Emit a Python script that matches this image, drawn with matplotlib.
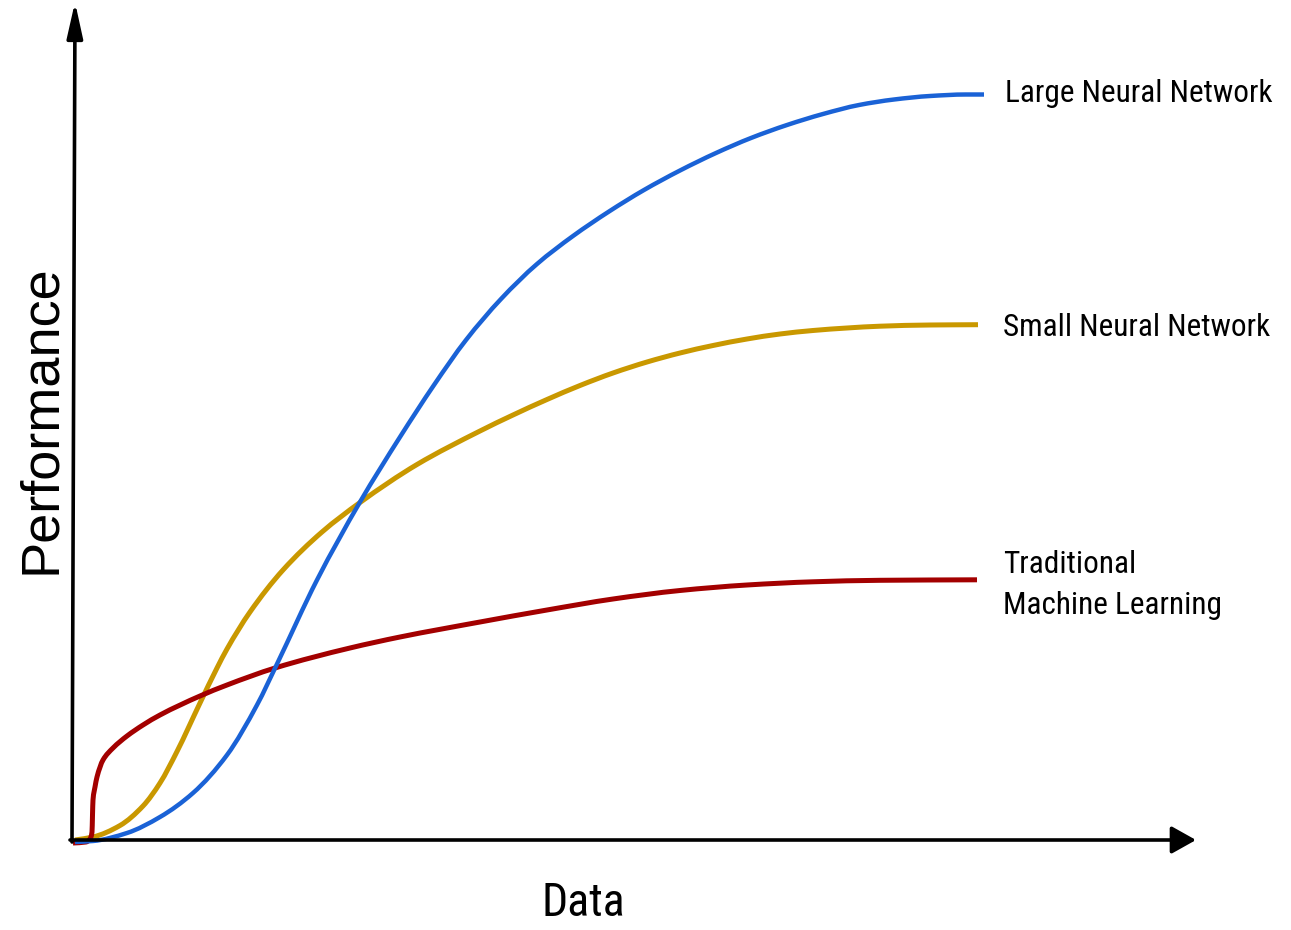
import matplotlib
matplotlib.use("Agg")
import numpy as np
import matplotlib.pyplot as plt
from matplotlib import font_manager as fm
from matplotlib.path import Path
from matplotlib.patches import PathPatch

# ---- data (arbitrary units: amount of data vs. performance) ----
large_x = [3, 21, 55, 88, 121, 155, 185, 205, 245, 288, 328, 362, 394, 429,
           465, 501, 537, 572, 608, 644, 679, 715, 751, 787, 822, 858, 894, 912]
large_y = [-2, -1, 7, 23, 47, 85, 135, 176, 260, 338, 403, 455, 500, 541,
           576, 604, 628.5, 650, 669.5, 687, 702, 715, 726, 735, 740.5, 744,
           745.5, 745.5]

small_x = [3, 21, 48, 71, 88, 105, 128, 145, 155, 178, 211, 250, 288, 345, 408,
           441, 475, 508, 541, 575, 608, 641, 675, 708, 741, 775, 808, 858, 906]
small_y = [0, 3, 14.5, 34, 57, 88.5, 137, 172, 191, 228, 270, 308, 337.5,
           375.5, 409, 425, 440.5, 454.5, 467, 478, 487, 494.5, 501, 506,
           509.5, 512, 513.8, 515, 515.3]

trad_x = [1, 14, 18, 20, 20.5, 21, 23, 25, 31, 41, 55, 71, 88, 128, 155, 203,
          278, 328, 408, 475, 541, 608, 675, 741, 808, 905]
trad_y = [-3, -2, 1, 8, 25, 40, 53, 63, 80, 92, 104, 115, 125, 144, 155, 172,
          192, 203, 218, 230, 241, 249.5, 255, 258.2, 259.7, 260.2]

series_names = ["Large Neural Network", "Small Neural Network",
                "Traditional\nMachine Learning"]
x_label = "Data"
y_label = "Performance"

# ---- styling ----
blue = "#1a62d6"
gold = "#c99800"
red = "#a30000"

names = {f.name for f in fm.fontManager.ttflist}
narrow = None
for cand in ["Liberation Sans Narrow", "Arial Narrow", "Roboto Condensed",
             "Open Sans Condensed", "DejaVu Sans Condensed"]:
    if cand in names:
        narrow = cand
        break
if narrow is not None:
    lab_size = 22.5
    data_size = 33
else:
    narrow = "Liberation Sans"
    lab_size = 20.5
    data_size = 30


def smooth_path(xs, ys):
    """Monotone cubic (Fritsch-Carlson) Bezier path through the given points."""
    x = np.asarray(xs, float)
    y = np.asarray(ys, float)
    h = np.diff(x)
    d = np.diff(y) / h
    m = np.zeros_like(x)
    m[0] = d[0]
    m[-1] = d[-1]
    for k in range(1, len(x) - 1):
        if d[k - 1] * d[k] <= 0:
            m[k] = 0.0
        else:
            w1 = 2 * h[k] + h[k - 1]
            w2 = h[k] + 2 * h[k - 1]
            m[k] = (w1 + w2) / (w1 / d[k - 1] + w2 / d[k])
    verts = [(x[0], y[0])]
    codes = [Path.MOVETO]
    for k in range(len(x) - 1):
        verts += [(x[k] + h[k] / 3, y[k] + m[k] * h[k] / 3),
                  (x[k + 1] - h[k] / 3, y[k + 1] - m[k + 1] * h[k] / 3),
                  (x[k + 1], y[k + 1])]
        codes += [Path.CURVE4] * 3
    return Path(verts, codes)


fig = plt.figure(figsize=(12.91, 9.30), dpi=100)
ax = fig.add_axes([0, 0, 1, 1])
ax.set_xlim(-72, 1219)
ax.set_ylim(-90, 840)
ax.axis("off")

for xs, ys, col, lw, z in [(small_x, small_y, gold, 3.6, 2),
                           (trad_x, trad_y, red, 3.6, 2),
                           (large_x, large_y, blue, 3.2, 3)]:
    ax.add_patch(PathPatch(smooth_path(xs, ys), facecolor="none",
                           edgecolor=col, lw=lw, capstyle="butt",
                           joinstyle="round", zorder=z))

# axes with arrows
ax.annotate("", xy=(3, 838), xytext=(0, -2),
            arrowprops=dict(arrowstyle="-|>,head_length=1.08,head_width=0.24",
                            lw=2.6, color="black", shrinkA=0, shrinkB=0,
                            mutation_scale=20), zorder=4)
ax.annotate("", xy=(1124, 0), xytext=(-2, 0),
            arrowprops=dict(arrowstyle="-|>,head_length=0.75,head_width=0.42",
                            lw=2.6, color="black", shrinkA=0, shrinkB=0,
                            mutation_scale=20), zorder=4)

ax.text(933, 747, series_names[0], family=narrow, fontsize=lab_size,
        ha="left", va="center")
ax.text(931, 513, series_names[1], family=narrow, fontsize=lab_size,
        ha="left", va="center")
ax.text(931, 255, series_names[2], family=narrow, fontsize=lab_size,
        ha="left", va="center", linespacing=1.55)

ax.text(511, -63, x_label, family=narrow, fontsize=data_size,
        ha="center", va="center")
ax.text(-31, 421, y_label, family="Liberation Sans", fontsize=39,
        ha="center", va="center", rotation=90)

fig.savefig("out.png", dpi=100, facecolor="white")
